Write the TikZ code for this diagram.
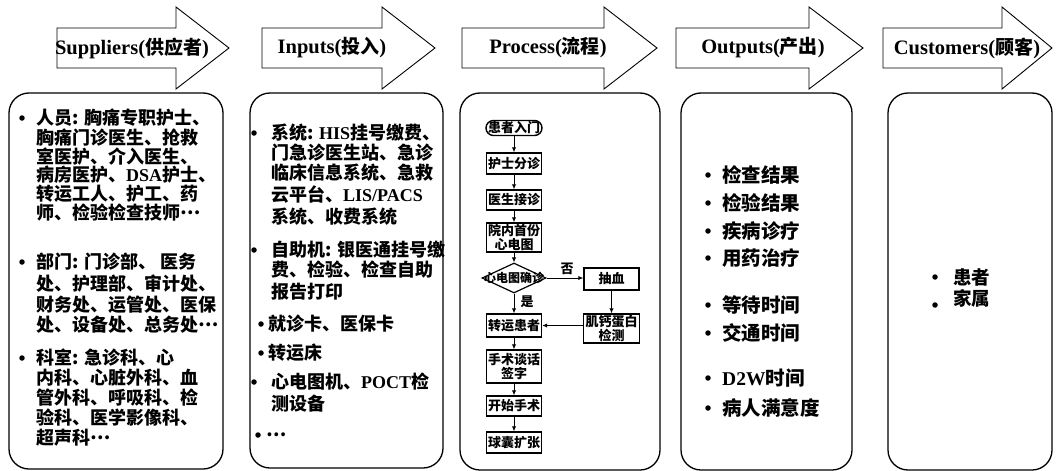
\documentclass[tikz,border=0pt]{standalone}
\usepackage{fontspec}
\setmainfont{Liberation Serif}
\newfontfamily\cjk{Noto Sans CJK SC}
\usetikzlibrary{shapes.geometric,arrows.meta}
\newcommand\en[1]{{\rmfamily #1}}
\newcommand\hz[1]{{\cjk\fontsize{19}{20}\selectfont #1}}
\newcommand\mdots{\raisebox{0.3em}{…}}
\tikzset{
  hdr/.style={draw, line width=0.9pt},
  hlabel/.style={font=\bfseries\fontsize{20.5}{22}\selectfont, inner sep=0},
  panel/.style={draw, line width=1.3pt, rounded corners=20pt},
  txt/.style={font=\cjk\bfseries\fontsize{18}{19}\selectfont, anchor=west, inner sep=0, text height=15pt, text depth=1.5pt},
  txtb/.style={font=\cjk\bfseries\fontsize{19.5}{20}\selectfont, anchor=west, inner sep=0, text height=16.2pt, text depth=1.6pt},
  bul/.style={circle, fill, inner sep=0, minimum size=5.5pt},
  fbox/.style={draw, line width=1.4pt, font=\cjk\bfseries\fontsize{13}{13.5}\selectfont, inner sep=0, align=center, minimum width=55pt},
  flab/.style={font=\cjk\bfseries\fontsize{13}{13.5}\selectfont, inner sep=0},
  farrow/.style={-{Latex[length=5pt,width=4.5pt]}, line width=1pt}
}
\begin{document}
\begin{tikzpicture}[x=1pt,y=-1pt]
\useasboundingbox (0,0) rectangle (1058,471);
% header arrows
\foreach \L/\B/\T in {57/176/229, 262/382/435, 462/604/657, 676/809/863, 883/1002/1052}
  \draw[hdr] (\L,28) -- (\B,28) -- (\B,7) -- (\T,48) -- (\B,89) -- (\B,68) -- (\L,68) -- cycle;
\node[hlabel] (h1) at (132,48) {Suppliers(\hz{供应者})};
\node[hlabel] (h2) at (332,48) {Inputs(\hz{投入})};
\node[hlabel] (h3) at (548,48) {Process(\hz{流程})};
\node[hlabel] (h4) at (763,48) {Outputs(\hz{产出})};
\node[hlabel] (h5) at (967,48) {Customers(\hz{顾客})};
% panels
\draw[panel] (9,93) rectangle (223,469);
\draw[panel] (250,93) rectangle (443,468);
\draw[panel] (460,93) rectangle (660,470);
\draw[panel] (681,93) rectangle (852,470);
\draw[panel] (888,93) rectangle (1052,470);
% panel 1
\node[bul] (b11) at (22,118) {};
\node[bul] (b12) at (22,262) {};
\node[bul] (b13) at (22,358) {};
\foreach \y/\t [count=\i] in {
  118/人员: 胸痛专职护士、,
  138/胸痛门诊医生、抢救,
  157/室医护、介入医生、,
  175/病房医护、\en{DSA}护士、,
  194/转运工人、护工、药,
  213/师、检验检查技师\mdots,
  262/部门: 门诊部、 医务,
  284/处、护理部、审计处、,
  305/财务处、运管处、医保,
  325/处、设备处、总务处\mdots,
  358/科室: 急诊科、心,
  378/内科、心脏外科、血,
  398/管外科、呼吸科、检,
  418/验科、医学影像科、,
  438/超声科\mdots}
  \node[txt] (a\i) at (36,\y) {\t};
% panel 2
\node[bul] (b21) at (254,133) {};
\node[bul] (b22) at (254,250) {};
\node[bul] (b23) at (261,324) {};
\node[bul] (b24) at (261,353) {};
\node[bul] (b25) at (254,382) {};
\node[bul] (b26) at (258,435) {};
\foreach \y/\x/\t [count=\i] in {
  133/271/系统: \en{HIS}挂号缴费、,
  153/271/门急诊医生站、急诊,
  173/271/临床信息系统、急救,
  195/271/云平台、\en{LIS/PACS},
  217/271/系统、收费系统,
  250/271/自助机: 银医通挂号缴,
  270/271/费、检验、检查自助,
  292/271/报告打印,
  324/268/就诊卡、医保卡,
  353/268/转运床,
  382/271/心电图机、\en{POCT}检,
  404/271/测设备,
  435/266/\mdots}
  \node[txt] (c\i) at (\x,\y) {\t};
% panel 3 flowchart
\node[fbox, rounded corners=7.5pt, minimum width=56pt, minimum height=15pt] (n1) at (514,128) {患者入门};
\node[fbox, minimum height=21pt] (n2) at (514,163.5) {护士分诊};
\node[fbox, minimum height=20pt] (n3) at (514,200) {医生接诊};
\node[fbox, minimum height=29pt] (n4) at (514,237.5) {院内首份\\心电图};
\node[draw, diamond, line width=1.2pt, minimum width=64pt, minimum height=30pt, inner sep=0] (d) at (514,278) {};
\node[flab, font=\cjk\bfseries\fontsize{12}{12}\selectfont] (dt) at (d) {心电图确诊};
\node[fbox, minimum height=22pt] (n6) at (611.5,279) {抽血};
\node[fbox, minimum height=29pt, minimum width=56pt] (n7) at (611.5,328.5) {肌钙蛋白\\检测};
\node[fbox, minimum height=23pt] (n8) at (514,325.5) {转运患者};
\node[fbox, minimum height=33pt] (n9) at (514,366.5) {手术谈话\\签字};
\node[fbox, minimum height=20pt] (n10) at (514,406) {开始手术};
\node[fbox, minimum height=21pt] (n11) at (514,442.5) {球囊扩张};
\draw[farrow] (n1) -- (n2);
\draw[farrow] (n2) -- (n3);
\draw[farrow] (n3) -- (n4);
\draw[farrow] (n4) -- (d);
\draw[farrow] (d.east) -- (d.east -| n6.west);
\draw[farrow] (n6) -- (n7);
\draw[farrow] (n8.east -| n7.west) -- (n8.east);
\draw[farrow] (d) -- (n8);
\draw[farrow] (n8) -- (n9);
\draw[farrow] (n9) -- (n10);
\draw[farrow] (n10) -- (n11);
\node[flab] (no) at (567,268.5) {否};
\node[flab] (yes) at (527,302) {是};
% panel 4
\foreach \y/\t [count=\i] in {
  175/检查结果, 203/检验结果, 231/疾病诊疗, 258/用药治疗,
  305/等待时间, 333/交通时间, 378/\en{D2W}时间, 408/病人满意度}
{
  \node[bul] (ob\i) at (708,\y) {};
  \node[txtb] (o\i) at (722,\y) {\t};
}
% panel 5
\node[bul] (cb1) at (935,277) {};
\node[bul] (cb2) at (935,305) {};
\node[txtb, font=\cjk\bfseries\fontsize{18.5}{20}\selectfont] (cu1) at (953,277) {患者};
\node[txtb, font=\cjk\bfseries\fontsize{18.5}{20}\selectfont] (cu2) at (953,298) {家属};
\end{tikzpicture}
\end{document}
